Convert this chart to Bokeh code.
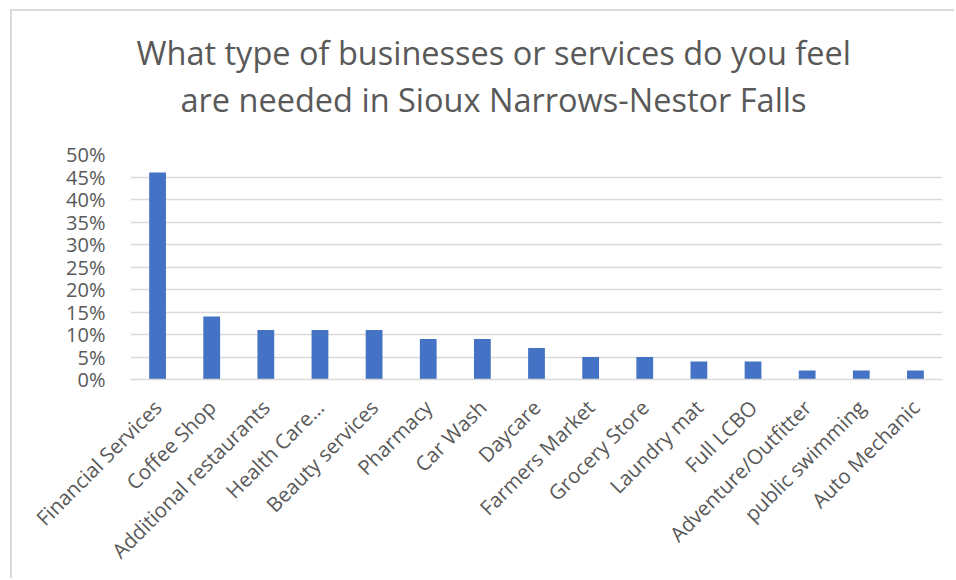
import math
from bokeh.plotting import figure
from bokeh.models import ColumnDataSource, FactorRange, Range1d, FixedTicker, NumeralTickFormatter, Title
from bokeh.embed import file_html
from bokeh.resources import INLINE

categories = ["Financial Services", "Coffee Shop", "Additional restaurants", "Health Care…",
              "Beauty services", "Pharmacy", "Car Wash", "Daycare", "Farmers Market",
              "Grocery Store", "Laundry mat", "Full LCBO", "Adventure/Outfitter",
              "public swimming", "Auto Mechanic"]
values = [0.46, 0.14, 0.11, 0.11, 0.11, 0.09, 0.09, 0.07, 0.05, 0.05, 0.04, 0.04, 0.02, 0.02, 0.02]
y_ticks = [0, 0.05, 0.10, 0.15, 0.20, 0.25, 0.30, 0.35, 0.40, 0.45, 0.50]
title_lines = ["What type of businesses or services do you feel",
               "are needed in Sioux Narrows-Nestor Falls"]

FONT = "Open Sans"
GRAY = "#595959"
GRID = "#d9d9d9"

src = ColumnDataSource(data=dict(cat=categories, val=values))

p = figure(x_range=FactorRange(*categories, range_padding=0), y_range=Range1d(0, 0.5),
           width=944, height=569, output_backend="svg", toolbar_location=None,
           min_border_left=118, min_border_right=14, min_border_top=143, min_border_bottom=201)
p.outline_line_color = None
p.styles = {"border-left": "2px solid #d9d9d9", "border-top": "2px solid #d9d9d9",
            "margin-left": "10px", "margin-top": "9px"}

p.vbar(x="cat", top="val", width=0.31, source=src, color="#4472C4", line_color=None)

p.yaxis.ticker = FixedTicker(ticks=y_ticks)
p.yaxis.formatter = NumeralTickFormatter(format="0%")
p.yaxis.axis_line_color = None
p.yaxis.major_tick_line_color = None
p.yaxis.minor_tick_line_color = None
p.yaxis.major_label_text_font = FONT
p.yaxis.major_label_text_font_size = "20px"
p.yaxis.major_label_text_color = GRAY
p.yaxis.major_label_standoff = 19

p.xaxis.axis_line_color = GRID
p.xaxis.axis_line_width = 1.5
p.xaxis.major_tick_line_color = None
p.xaxis.minor_tick_line_color = None
p.xaxis.major_label_orientation = math.pi / 4
p.xaxis.major_label_text_font = FONT
p.xaxis.major_label_text_font_size = "20.5px"
p.xaxis.major_label_text_color = GRAY
p.xaxis.major_label_standoff = 18

p.xgrid.grid_line_color = None
p.ygrid.ticker = FixedTicker(ticks=y_ticks)
p.ygrid.grid_line_color = GRID
p.ygrid.grid_line_width = 1.5

# spacing panel between the plot frame and the two title lines
p.add_layout(Title(text=" ", text_font=FONT, text_font_size="10px", standoff=17), "above")
for line, off, so in zip(reversed(title_lines), [50, 6], [0, 0]):
    p.add_layout(Title(text=line, align="left", offset=off, standoff=so,
                       text_font=FONT, text_font_size="32.5px", text_color=GRAY,
                       text_font_style="normal"), "above")

open("out.html", "w").write(file_html(p, INLINE))
